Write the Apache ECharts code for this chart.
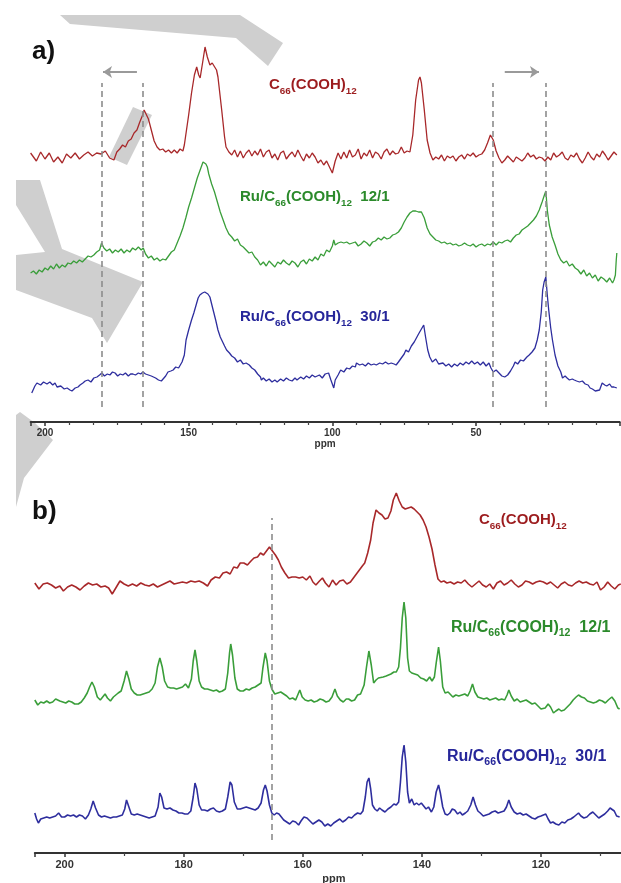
<!DOCTYPE html>
<html>
<head>
<meta charset="utf-8">
<script src="https://cdn.jsdelivr.net/npm/echarts/dist/echarts.min.js"></script>
<style>html,body{margin:0;padding:0;background:#fff;}#c{width:621px;height:883px;}</style>
</head>
<body>
<div id="c"></div>
<script>
// ---------- DATA (ppm, intensity above each trace's baseline, arbitrary units) ----------
const ticksA = [200, 150, 100, 50];
const ticksB = [200, 180, 160, 140, 120];
const dashA = [180.1, 165.8, 44.2, 25.6];
const dashB = [165.2];
const labelsA = ['C66(COOH)12', 'Ru/C66(COOH)12 12/1', 'Ru/C66(COOH)12 30/1'];

const redA = [[205,2],[203,-6],[201.5,3],[200,-4],[198.5,2],[197,-7],[195.5,-2],[194,-8],[192.5,1],[191,-3],[189.5,2],[188,-4],[186.5,0],[185,3],[183.5,-1],[182,2],[180.5,1],[179,4],[177.5,-3],[176,-5],[175,3],[174,6],[173,10],[172,8],[171,14],[170,16],[169,22],[168,25],[167,33],[166,40],[165.5,45],[165,42],[164,36],[163,25],[162,14],[161,8],[160,5],[159,6],[158,3],[157,5],[156,2],[155,5],[154,2],[153,6],[152,4],[151.5,10],[151,20],[150,40],[149,62],[148,80],[147.2,88],[146.5,80],[146,77],[145,95],[144.3,108],[143.5,98],[142.6,90],[141.8,92],[141.2,92],[140.3,85],[139.8,78],[138.5,45],[137.5,18],[137,8],[136,3],[135,0],[134,5],[133,-2],[132,4],[131,-3],[130,2],[129,5],[128,-1],[127,4],[126,0],[125,6],[124,-2],[123,3],[122,5],[121,-3],[120,1],[119,-5],[118,2],[117,4],[116,-4],[115,0],[114,3],[113,-2],[112,5],[111,-1],[110,-6],[109,1],[108,-3],[107,2],[106,-2],[105,-8],[104,-5],[103,-10],[102,-6],[101,-12],[100,-18],[99,-6],[98,2],[97,-4],[96,3],[95,-3],[94,5],[93,-2],[92,0],[91,6],[90,-4],[89,2],[88,-1],[87,5],[86,-3],[85,3],[84,1],[83,-4],[82,3],[81,6],[80,0],[79,4],[78,1],[77,2],[76,8],[75,2],[74,4],[73,3],[72,20],[71,55],[70,75],[69.5,78],[69,72],[68,45],[67,15],[66,2],[65,-5],[64,-2],[63,-4],[62,0],[61,-6],[60,-1],[59,-3],[58,-1],[57,-6],[56,-2],[55,0],[54,-4],[53,1],[52,-1],[51,2],[50,-2],[49,0],[48,1],[47,5],[46,12],[45,20],[44.5,22],[44,15],[43,4],[42,-3],[41,-8],[40,-5],[39,-1],[38,-4],[37,-7],[36,-2],[35,-4],[34,-6],[33,-3],[32,2],[31,-2],[30,0],[29,-4],[28,-2],[27,-3],[26,-6],[25,-2],[24,-5],[23,2],[22,-2],[21,0],[20,3],[19,-3],[18,-5],[17,0],[16,-2],[15,2],[14,-4],[13,-8],[12,-3],[11,3],[10,-2],[9,-5],[8,1],[7,-2],[6,4],[5,0],[4,-5],[3,-1],[2,3],[1,0]];

const greenA = [[205,-3],[204,-1],[203,-4],[202,0],[201,-2],[200,2],[199,0],[198,4],[197,1],[196,6],[195,2],[194,5],[193,3],[192,7],[191,6],[190,9],[189,7],[188,10],[187,8],[186,11],[185,14],[184,13],[183,15],[182,18],[181,20],[180.3,27],[179.5,22],[178.5,19],[177.5,21],[176.5,17],[175.5,20],[174.5,18],[173.5,21],[172.5,17],[171.5,20],[170.5,18],[169.5,22],[168.5,20],[167.5,23],[166.5,20],[165.8,22],[165,16],[164,12],[163,14],[162,10],[161,12],[160,9],[159,11],[158,10],[157,14],[156,18],[155,20],[154,27],[153,34],[152,42],[151,52],[150,63],[149,72],[148,82],[147,92],[146,100],[145.5,104],[145,108],[144.5,107],[144,106],[143.5,103],[143,96],[142,86],[141,78],[140,68],[139,58],[138,50],[137,42],[136,36],[135,33],[134,29],[133,31],[132,25],[131,23],[130,20],[129,17],[128,18],[127,13],[126,10],[125,5],[124,8],[123,4],[122,9],[121,6],[120,3],[119,8],[118,6],[117,10],[116,7],[115,5],[114,9],[113,7],[112,3],[111,8],[110,10],[109,6],[108,11],[107,9],[106,13],[105,10],[104,16],[103,14],[102,20],[101,18],[100,24],[99.5,30],[99,25],[98,27],[97,28],[96,27],[95,28],[94,26],[93,27],[92,28],[91,24],[90,26],[89,29],[88,27],[87,24],[86,28],[85,29],[84,32],[83,30],[82,33],[81,31],[80,32],[79,35],[78,36],[77,38],[76,42],[75,48],[74,53],[73,57],[72,59],[71,59],[70,58],[69,58],[68,52],[67,42],[66,36],[65,33],[64,30],[63,29],[62,27],[61,28],[60,26],[59,27],[58,25],[57,26],[56,24],[55,25],[54,27],[53,25],[52,24],[51,26],[50,23],[49,25],[48,26],[47,24],[46,26],[45,25],[44,28],[43,25],[42,28],[41,27],[40,29],[39,30],[38,28],[37,32],[36,35],[35,36],[34,40],[33,42],[32,44],[31,47],[30,50],[29,54],[28,60],[27,68],[26.2,75],[25.7,79],[25.2,60],[24.5,45],[23.5,33],[22.5,25],[21.5,16],[20.5,10],[19.5,7],[18.5,9],[17.5,4],[16.5,6],[15.5,2],[14.5,0],[13.5,-4],[12.5,0],[11.5,-6],[10.5,-3],[9.5,-8],[8.5,-5],[7.5,-11],[6.5,-7],[5.5,-9],[4.5,-12],[3.5,-8],[2.5,-13],[2,-10],[1.5,-5],[1.2,10],[1,17]];

const blueA = [[204.6,-13],[203.5,-6],[202.8,-3],[201.5,-5],[200.5,-2],[199.3,-4],[198.3,-2],[197.3,-5],[196.5,-3],[195.8,-7],[194.5,-6],[193.3,-9],[192.3,-8],[191.3,-10],[190.6,-11],[189.5,-8],[188.5,-7],[187.8,-5],[186.8,-3],[186,-1],[185,0],[184,-2],[183,2],[181.9,3],[181,5],[180.2,7],[179.3,4],[178.3,6],[177.4,5],[176.5,8],[175.6,7],[174.7,4],[173.8,6],[172.9,5],[172,7],[171,4],[170.2,6],[169.4,6],[168.5,5],[167.5,7],[166.7,6],[165.9,8],[165,6],[164,5],[163,4],[162.4,5],[161.5,2],[160.5,0],[159.5,-1],[158.9,-2],[158,4],[157.2,8],[156.2,9],[155.4,10],[154.5,13],[153.5,12],[152.3,18],[151.5,25],[150.9,40],[150,50],[149,60],[148.2,67],[147.3,76],[146.7,82],[146.1,85],[145.2,87],[144.4,88],[144,88],[143.3,86],[142.6,83],[142,76],[141.3,68],[140.6,60],[139.8,50],[139,43],[138.5,40],[137.5,34],[136.8,30],[135.8,27],[135,24],[134,22],[133,18],[132,20],[131,16],[130,17],[128.9,15],[128,12],[127,10],[126,6],[125,3],[124.7,0],[124,2],[123,-1],[122,1],[121,-2],[120,0],[119.2,-2],[118,1],[117,-1],[116,2],[115,0],[114,-1],[113,2],[112.3,0],[111,3],[110,1],[109,4],[108,2],[107,5],[106,3],[105.4,2],[104.5,5],[103.5,2],[102.5,6],[101.3,7],[100.5,0],[99.5,-8],[99,0],[98,5],[97.1,10],[96,8],[95,12],[94,11],[93,14],[92,13],[91.6,17],[90.5,15],[89.5,16],[88.5,14],[87.5,17],[86.5,15],[85.5,16],[84.7,15],[83.5,17],[82.5,16],[81.5,18],[80.5,16],[79.5,17],[78.5,16],[77.8,15],[77,18],[76,22],[75,26],[74.4,30],[73.5,28],[72.5,34],[71.5,38],[70.9,40],[70,46],[69,51],[68.2,55],[67.5,42],[66.8,30],[66.1,23],[65.2,18],[64,21],[63,16],[62.6,15],[61.5,17],[60.5,14],[59.5,16],[58.5,13],[57.5,16],[56.5,14],[55.5,17],[54.5,15],[53.5,18],[52.5,16],[51.5,19],[50.5,16],[49.5,18],[48.5,15],[47.5,18],[46.5,14],[45.5,17],[44.8,12],[44,8],[43,10],[42,7],[41,4],[40,3],[39,5],[38,9],[37,14],[36.4,18],[35.5,16],[34.5,20],[33.5,19],[32.3,23],[31.5,25],[30.5,28],[29.5,32],[28.7,40],[28,50],[27.3,68],[26.8,90],[26.3,98],[25.7,103],[25.2,85],[24.7,70],[24,52],[23.4,40],[22.5,25],[21.5,14],[20.5,8],[19.9,2],[19,4],[18.3,2],[17.5,0],[16.5,1],[15.8,0],[15,-1],[14,-2],[13,-1],[12.7,-3],[12,-4],[11,-5],[10.3,-8],[9.5,-9],[8.5,-11],[7.9,-13],[7,-10],[6.1,-3],[5.2,-5],[4.5,-6],[3.5,-4],[2.8,-7],[2,-7],[1,-8]];

const redB = [[205,2],[204.3,-4],[203.6,1],[202.9,2],[202.2,0],[201.5,-3],[200.8,-1],[200.2,-6],[199.5,-2],[198.8,0],[198.1,-2],[197.4,-5],[196.7,-1],[196,2],[195.3,0],[194.6,1],[193.9,-2],[193.2,-1],[192.6,-3],[192,-9],[191.4,-3],[190.7,4],[190,1],[189.3,-1],[188.6,1],[187.9,-1],[187.2,2],[186.5,0],[185.8,-1],[185.1,1],[184.4,-2],[183.7,0],[183,2],[182.3,4],[181.6,1],[180.9,2],[180.2,3],[179.5,2],[178.8,4],[178.1,3],[177.4,4],[176.7,2],[176,-1],[175.4,5],[174.7,8],[174,7],[173.4,12],[172.8,13],[172.2,11],[171.6,18],[171,17],[170.5,22],[169.9,22],[169.3,20],[168.7,24],[168.2,27],[167.6,28],[167.1,32],[166.6,30],[166.1,34],[165.6,38],[165.1,34],[164.6,30],[164.1,25],[163.6,18],[163,12],[162.4,7],[161.8,8],[161.2,8],[160.6,7],[160,8],[159.4,5],[158.8,9],[158.3,3],[157.8,0],[157.2,4],[156.7,7],[156.2,2],[155.6,-2],[155,5],[154.4,0],[153.8,4],[153.2,5],[152.6,1],[152,3],[151.5,7],[151,11],[150.5,15],[150,19],[149.6,22],[149.1,32],[148.6,45],[148.2,62],[147.7,75],[147.2,72],[146.7,70],[146.2,66],[145.7,67],[145.2,74],[144.8,85],[144.3,92],[143.8,84],[143.3,78],[142.8,76],[142.3,77],[141.8,78],[141.3,76],[140.8,73],[140.3,70],[139.8,65],[139.3,58],[138.8,48],[138.3,36],[137.8,20],[137.3,6],[136.8,3],[136.3,4],[135.8,2],[135.2,3],[134.6,1],[134,3],[133.4,2],[132.8,5],[132.2,1],[131.6,-2],[131,1],[130.4,4],[129.8,0],[129.2,-2],[128.6,1],[128,-4],[127.4,2],[126.8,4],[126.2,0],[125.6,2],[125,5],[124.4,1],[123.8,-2],[123.2,0],[122.6,4],[122,3],[121.4,1],[120.8,3],[120.2,4],[119.6,3],[119,1],[118.4,3],[117.8,0],[117.2,-3],[116.6,1],[116,3],[115.4,0],[114.8,-1],[114.2,2],[113.6,4],[113,2],[112.4,3],[111.8,1],[111.2,0],[110.6,3],[110,-5],[109.4,-2],[108.8,3],[108.2,-1],[107.6,-4],[107,0],[106.6,1]];

const greenB = [[205,3],[204.5,-2],[204,1],[203.5,0],[203,2],[202.5,0],[202,1],[201.5,4],[201.2,6],[200.8,2],[200.3,1],[199.8,0],[199.3,2],[198.8,1],[198.3,-1],[197.7,-1],[197.2,1],[196.7,5],[196.2,10],[195.8,16],[195.4,21],[195,16],[194.5,6],[194,3],[193.6,6],[193.2,9],[192.8,5],[192.3,2],[191.8,6],[191.4,8],[191,10],[190.5,12],[190,22],[189.6,32],[189.2,24],[188.8,14],[188.3,10],[187.8,8],[187.3,8],[186.8,9],[186.3,10],[185.8,11],[185.3,14],[184.8,20],[184.4,36],[184,45],[183.6,36],[183.2,22],[182.7,16],[182.2,15],[181.7,15],[181.2,14],[180.7,15],[180.2,16],[179.7,19],[179.2,15],[178.7,24],[178.4,42],[178.1,53],[177.8,42],[177.4,22],[177,16],[176.5,14],[176,14],[175.5,13],[175,12],[174.5,13],[174,11],[173.5,12],[173,14],[172.6,30],[172.3,50],[172.1,59],[171.8,48],[171.4,25],[171,14],[170.5,12],[170,12],[169.5,14],[169,13],[168.5,15],[168,16],[167.5,18],[167,20],[166.7,35],[166.3,50],[166,42],[165.6,22],[165.2,14],[164.7,9],[164.2,10],[163.7,11],[163.2,9],[162.7,7],[162.2,4],[161.7,5],[161.2,3],[160.9,5],[160.5,13],[160.1,6],[159.6,3],[159.1,2],[158.6,3],[158.1,1],[157.6,2],[157.1,4],[156.6,3],[156.1,1],[155.6,2],[155.1,6],[154.6,14],[154.2,7],[153.7,3],[153.2,1],[152.7,4],[152.3,4],[151.8,2],[151.3,3],[150.8,8],[150.3,9],[149.7,18],[149.3,36],[148.9,52],[148.5,38],[148.1,20],[147.7,23],[147.3,25],[147,26],[146.5,26],[146,27],[145.7,26],[145.2,29],[144.7,31],[144.3,31],[143.9,36],[143.6,55],[143.3,85],[143,101],[142.7,85],[142.4,45],[142.1,32],[141.7,30],[141.2,29],[140.7,28],[140.2,25],[139.7,24],[139.2,22],[138.7,26],[138.3,22],[137.9,26],[137.6,40],[137.2,56],[136.9,42],[136.5,16],[136.1,10],[135.6,11],[135.3,9],[134.8,6],[134.3,8],[133.8,7],[133.3,8],[132.8,9],[132.3,7],[131.9,12],[131.5,19],[131.1,11],[130.6,6],[130.1,5],[129.6,4],[129.1,5],[128.6,3],[128.1,4],[127.6,5],[127.1,3],[126.6,4],[126.1,3],[125.7,8],[125.4,13],[125,7],[124.5,2],[124,4],[123.5,1],[123,2],[122.5,3],[122,1],[121.5,-1],[121,0],[120.5,-3],[120,-6],[119.7,-7],[119.3,-5],[118.8,-1],[118.4,-4],[117.9,-10],[117.5,-8],[117,-6],[116.6,-8],[116.1,-7],[115.6,-4],[115.1,-1],[114.6,3],[114.1,6],[113.7,8],[113.2,6],[112.7,5],[112.2,2],[111.7,1],[111.2,0],[110.7,1],[110.2,3],[109.7,2],[109.2,0],[108.7,3],[108.1,6],[107.6,2],[107.1,-5],[106.8,-6]];

const blueB = [[205,4],[204.7,-2],[204.4,-6],[204,-2],[203.5,-1],[203,0],[202.5,-1],[202,0],[201.5,1],[201,4],[200.5,0],[200,0],[199.5,2],[199,1],[198.5,2],[198,0],[197.5,2],[197,1],[196.5,-2],[196,2],[195.6,8],[195.2,16],[194.8,9],[194.3,2],[193.8,0],[193.3,1],[192.8,0],[192.3,-1],[191.8,0],[191.3,0],[190.8,1],[190.3,2],[189.9,8],[189.6,17],[189.2,10],[188.8,3],[188.3,2],[187.8,3],[187.3,2],[186.8,1],[186.3,0],[185.8,-1],[185.3,0],[184.8,1],[184.3,10],[184,24],[183.7,20],[183.3,9],[182.8,8],[182.3,9],[181.8,7],[181.3,6],[180.8,4],[180.3,4],[179.8,3],[179.3,3],[178.8,6],[178.4,20],[178.1,34],[177.8,28],[177.4,12],[177,7],[176.5,7],[176,6],[175.5,8],[175,9],[174.5,6],[174,5],[173.5,6],[173,8],[172.6,20],[172.2,35],[171.9,32],[171.5,15],[171,8],[170.5,8],[170,9],[169.5,10],[169,9],[168.5,8],[168,7],[167.5,9],[167,14],[166.6,27],[166.3,32],[166,26],[165.6,12],[165.2,4],[164.8,2],[164.4,4],[164,3],[163.6,0],[163.2,-3],[162.7,-5],[162.2,-7],[161.7,-4],[161.2,-5],[160.7,-8],[160.3,-4],[159.8,0],[159.3,-1],[158.8,-4],[158.3,-7],[157.8,-5],[157.3,-3],[156.8,-5],[156.3,-9],[155.8,-7],[155.3,-9],[154.8,-6],[154.3,-4],[153.8,-2],[153.3,-5],[152.8,-3],[152.3,0],[151.8,-1],[151.3,2],[150.8,4],[150.3,3],[149.9,6],[149.5,20],[149.2,35],[148.9,39],[148.6,28],[148.3,12],[147.9,8],[147.5,6],[147.1,9],[146.7,7],[146.2,5],[145.7,8],[145.2,10],[144.7,13],[144.3,12],[143.9,15],[143.6,35],[143.3,60],[143,72],[142.7,55],[142.4,25],[142.1,14],[141.7,18],[141.3,12],[140.9,14],[140.5,12],[140.1,14],[139.7,11],[139.3,8],[138.9,10],[138.4,5],[138,10],[137.6,25],[137.2,32],[136.9,24],[136.5,10],[136.1,3],[135.7,2],[135.3,4],[134.9,8],[134.5,7],[134,3],[133.6,5],[133.2,2],[132.7,4],[132.3,6],[131.8,12],[131.4,20],[131,12],[130.6,6],[130.2,4],[129.7,1],[129.2,2],[128.7,3],[128.2,5],[127.7,6],[127.2,4],[126.7,5],[126.2,6],[125.8,10],[125.4,17],[125,10],[124.5,5],[124,3],[123.5,4],[123,2],[122.5,3],[122,1],[121.5,-1],[121,-2],[120.5,0],[120,1],[119.6,2],[119.2,3],[118.8,-2],[118.4,-6],[118,-5],[117.5,-7],[117,-8],[116.5,-5],[116,-6],[115.5,-3],[115,-2],[114.5,0],[114.1,2],[113.7,4],[113.3,1],[112.8,-1],[112.3,0],[111.8,3],[111.3,5],[110.8,2],[110.3,-1],[109.8,1],[109.3,3],[108.8,6],[108.4,9],[108.1,11],[107.7,6],[107.3,1],[106.8,0]];

// ---------- LAYOUT ----------
const offA = { red: 267, green: 152, blue: 42 };
const offB = { red: 268, green: 150, blue: 36 };
const COL = { red: '#a8282a', green: '#3a9e3a', blue: '#2e2e9e' };
const TXT = { red: '#9c1c1e', green: '#2b8a2b', blue: '#26269a' };
const FONT = '"Liberation Sans", Arial, sans-serif';

function shift(arr, off) { return arr.map(d => [d[0], d[1] + off]); }

function spec(name, arr, off, color, gi, w) {
  return { type: 'line', name, xAxisIndex: gi, yAxisIndex: gi, data: shift(arr, off),
    showSymbol: false, symbol: 'none', smooth: false, silent: true, z: 3,
    lineStyle: { color, width: w } };
}
function dashes(list, gi, y0, y1) {
  return { type: 'line', xAxisIndex: gi, yAxisIndex: gi, data: [], silent: true,
    markLine: { symbol: 'none', silent: true, animation: false, label: { show: false },
      lineStyle: { type: [6, 4], color: '#8c8c8c', width: 1.6 },
      data: list.map(p => [{ coord: [p, y0] }, { coord: [p, y1] }]) } };
}
function arrows(gi) {
  return { type: 'line', xAxisIndex: gi, yAxisIndex: gi, data: [], silent: true,
    markLine: { symbol: ['none', 'arrow'], symbolSize: [9, 9], silent: true, animation: false,
      label: { show: false }, lineStyle: { type: 'solid', color: '#9a9a9a', width: 2 },
      data: [[{ coord: [168.0, 350] }, { coord: [179.8, 350] }],
             [{ coord: [40.0, 350] }, { coord: [28.1, 350] }]] } };
}
function richLabel(x, y, s, color, fs) {
  const m = s.match(/^(.*C)66\(COOH\)12(.*)$/);
  return { type: 'text', x, y, z: 100, silent: true,
    style: { text: '{m|' + m[1] + '}{s|66}{m|(COOH)}{s|12}' + (m[2] ? '{m|' + m[2].replace(' ', '\u00a0\u00a0') + '}' : ''),
      verticalAlign: 'middle', align: 'left',
      rich: { m: { fontSize: fs, fontWeight: 'bold', fontFamily: FONT, fill: color, lineHeight: 22 },
              s: { fontSize: fs * 0.66, fontWeight: 'bold', fontFamily: FONT, fill: color, lineHeight: 12, verticalAlign: 'bottom' } } } };
}
function xAxisCfg(gi, min, max, interval, minorSplit, fs, keep) {
  return { type: 'value', gridIndex: gi, min, max, inverse: true, interval,
    axisLine: { lineStyle: { color: '#333', width: 2 } },
    axisTick: { length: 4, lineStyle: { color: '#333', width: 1.5 } },
    minorTick: { show: true, splitNumber: minorSplit, length: 3, lineStyle: { color: '#444', width: 1.2 } },
    splitLine: { show: false }, minorSplitLine: { show: false },
    axisLabel: { margin: 6, fontSize: fs, fontWeight: 'bold', color: '#333', fontFamily: FONT,
      formatter: v => keep.indexOf(v) >= 0 ? String(v) : '' },
    name: 'ppm', nameLocation: 'middle', nameGap: gi === 0 ? 17 : 20,
    nameTextStyle: { fontSize: fs, fontWeight: 'bold', color: '#333', fontFamily: FONT,
      padding: gi === 0 ? 0 : [0, 27, 0, 0] } };
}

const wm = '#cfcfcf';
const watermark = [
  [[60,15],[240,15],[283,43],[268,66],[236,38],[70,24]],
  [[133,107],[152,115],[127,165],[109,157]],
  [[16,180],[40,180],[62,249],[143,282],[107,343],[92,318],[16,290],[16,255],[45,252],[16,205]],
  [[20,412],[35,423],[53,440],[24,478],[16,507],[16,415]]
].map(pts => ({ type: 'polygon', z: -10, silent: true, shape: { points: pts }, style: { fill: wm } }));

const chart = echarts.init(document.getElementById('c'), null, { renderer: 'canvas' });
chart.setOption({
  animation: false,
  backgroundColor: '#fff',
  grid: [
    { left: 30.6, width: 589.1, top: 40, height: 382, containLabel: false, outerBoundsMode: 'none' },
    { left: 34.8, width: 625.3, top: 470, height: 383, containLabel: false, outerBoundsMode: 'none' }
  ],
  xAxis: [
    xAxisCfg(0, 0, 205, 50, 6, 10, ticksA),
    xAxisCfg(1, 100, 205, 20, 2, 11, ticksB)
  ],
  yAxis: [
    { type: 'value', gridIndex: 0, min: 0, max: 382, show: false },
    { type: 'value', gridIndex: 1, min: 0, max: 383, show: false }
  ],
  series: [
    dashes(dashA, 0, 15, 339),
    arrows(0),
    spec(labelsA[0], redA, offA.red, COL.red, 0, 1.3),
    spec(labelsA[1], greenA, offA.green, COL.green, 0, 1.3),
    spec(labelsA[2], blueA, offA.blue, COL.blue, 0, 1.3),
    dashes(dashB, 1, 13, 335),
    spec(labelsA[0], redB, offB.red, COL.red, 1, 1.6),
    spec(labelsA[1], greenB, offB.green, COL.green, 1, 1.6),
    spec(labelsA[2], blueB, offB.blue, COL.blue, 1, 1.6)
  ],
  graphic: watermark.concat([
    { type: 'text', x: 32, y: 52, z: 100, silent: true, style: { text: 'a)', fontSize: 26, fontWeight: 'bold', fontFamily: FONT, fill: '#111', verticalAlign: 'middle' } },
    { type: 'text', x: 32, y: 512, z: 100, silent: true, style: { text: 'b)', fontSize: 26, fontWeight: 'bold', fontFamily: FONT, fill: '#111', verticalAlign: 'middle' } },
    richLabel(269, 85, labelsA[0], TXT.red, 15),
    richLabel(240, 197, labelsA[1], TXT.green, 15),
    richLabel(240, 317, labelsA[2], TXT.blue, 15),
    richLabel(479, 520, labelsA[0], TXT.red, 15),
    richLabel(451, 628, labelsA[1], TXT.green, 16),
    richLabel(447, 757, labelsA[2], TXT.blue, 16)
  ])
});
</script>
</body>
</html>
